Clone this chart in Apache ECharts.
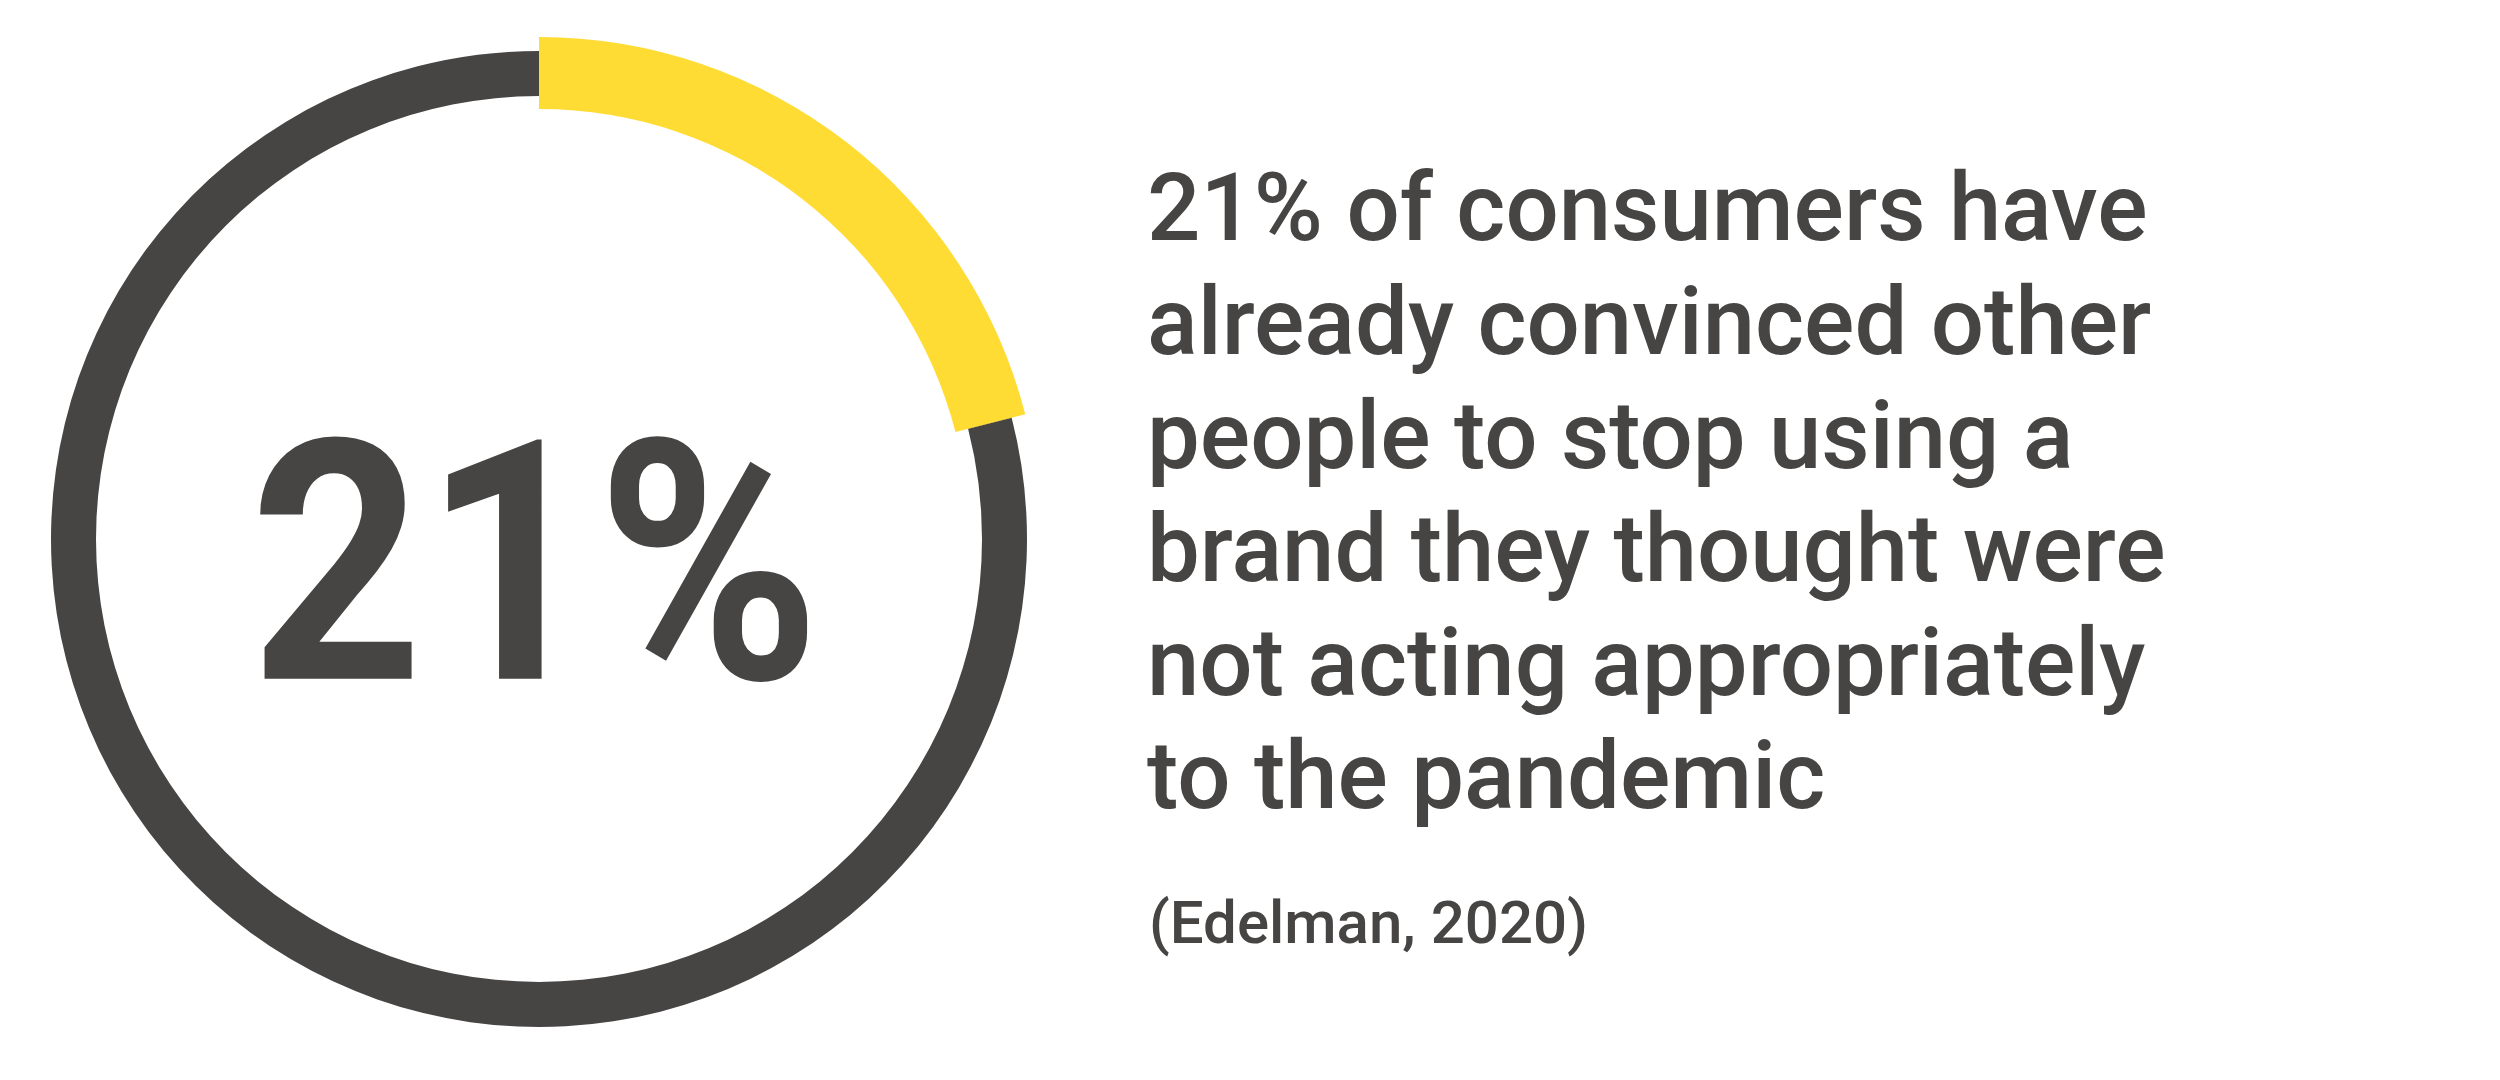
<!DOCTYPE html>
<html>
<head>
<meta charset="utf-8">
<script src="https://cdn.jsdelivr.net/npm/echarts@6/dist/echarts.min.js"></script>
<style>
html,body{margin:0;padding:0;background:#ffffff;}
#chart{width:2500px;height:1080px;}
</style>
</head>
<body>
<div id="chart"></div>
<script>
// ---- data ----
var categories = ['Convinced others to stop using a brand', 'Other consumers'];
var shareValues = [21, 79];
var bigLabel = '21%';
var bodyLines = [
  '21% of consumers have',
  'already convinced other',
  'people to stop using a',
  'brand they thought were',
  'not acting appropriately',
  'to the pandemic'
];
var sourceLabel = '(Edelman, 2020)';

// ---- styles ----
var DARK = '#474544';
var YELLOW = '#FEDC33';
var FONT = 'Roboto';
var MID = 0.245; // distance from baseline to 'middle' in em

var chart = echarts.init(document.getElementById('chart'), null, {renderer: 'canvas'});

var bigSize = 336;
var bodySize = 94;
var bodyLeft = 1147;
var firstBaseline = 240;
var lineStep = 113.6;

var graphics = [];
graphics.push({
  type: 'text',
  x: 535,
  y: 677 - MID * bigSize,
  scaleX: 0.9,
  silent: true,
  style: {
    text: bigLabel,
    fill: DARK,
    font: 'bold ' + bigSize + 'px ' + FONT,
    textAlign: 'center',
    textVerticalAlign: 'middle'
  }
});
bodyLines.forEach(function (t, i) {
  graphics.push({
    type: 'text',
    x: bodyLeft,
    y: firstBaseline + i * lineStep - MID * bodySize,
    silent: true,
    style: {
      text: t,
      fill: DARK,
      font: '500 ' + bodySize + 'px ' + FONT,
      textAlign: 'left',
      textVerticalAlign: 'middle'
    }
  });
});
graphics.push({
  type: 'text',
  x: 1149,
  y: 943 - MID * 60,
  silent: true,
  style: {
    text: sourceLabel,
    fill: DARK,
    font: '500 60px ' + FONT,
    textAlign: 'left',
    textVerticalAlign: 'middle'
  }
});

chart.setOption({
  backgroundColor: '#ffffff',
  animation: false,
  series: [
    {
      type: 'pie',
      center: [539, 539],
      radius: [443, 488],
      startAngle: 90,
      clockwise: true,
      silent: true,
      label: {show: false},
      labelLine: {show: false},
      emphasis: {disabled: true},
      itemStyle: {borderWidth: 0},
      data: categories.map(function (c, i) {
        return {name: c, value: shareValues[i], itemStyle: {color: DARK}};
      }),
      z: 1
    },
    {
      type: 'pie',
      center: [539, 539],
      radius: [430, 502],
      startAngle: 90,
      clockwise: true,
      silent: true,
      label: {show: false},
      labelLine: {show: false},
      emphasis: {disabled: true},
      itemStyle: {borderWidth: 0},
      data: categories.map(function (c, i) {
        return {name: c, value: shareValues[i], itemStyle: {color: i === 0 ? YELLOW : 'rgba(0,0,0,0)'}};
      }),
      z: 2
    }
  ],
  graphic: graphics
});
</script>
</body>
</html>
